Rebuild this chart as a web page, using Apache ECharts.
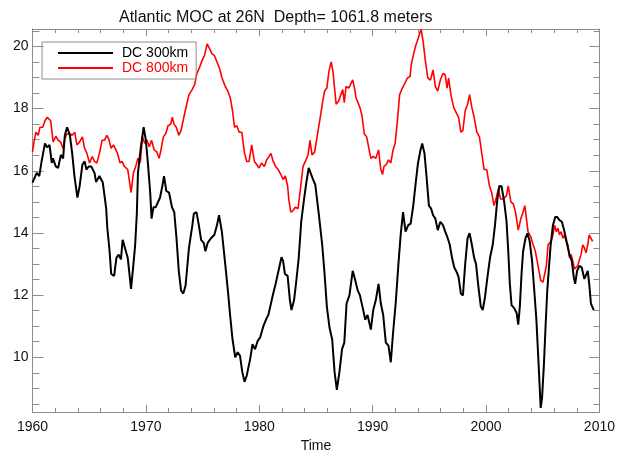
<!DOCTYPE html>
<html>
<head>
<meta charset="utf-8">
<title>Atlantic MOC at 26N</title>
<script src="https://cdn.jsdelivr.net/npm/echarts@6/dist/echarts.min.js"></script>
<style>
  html, body { margin: 0; padding: 0; background: #fff; }
  #chart { width: 618px; height: 458px; }
</style>
</head>
<body>
<div id="chart"></div>
<script>
// DC 300km (black), decimal year / transport
let years300 = [1960.0, 1960.37, 1960.6, 1960.8, 1961.1, 1961.3, 1961.5, 1961.7, 1961.8, 1962.05, 1962.26, 1962.5, 1962.7, 1962.85,
  1963.05, 1963.3, 1963.5, 1963.7, 1963.96, 1964.16, 1964.4, 1964.6, 1964.75, 1964.97, 1965.18, 1965.47, 1965.6, 1965.9,
  1966.2, 1966.5, 1966.6, 1966.8, 1966.94, 1967.2, 1967.4, 1967.6, 1967.8, 1967.95, 1968.1, 1968.4, 1968.69, 1968.9,
  1969.05, 1969.2, 1969.3, 1969.56, 1969.8, 1970.0, 1970.2, 1970.38, 1970.5, 1970.67, 1970.87, 1971.0, 1971.25, 1971.45,
  1971.6, 1971.8, 1972.04, 1972.3, 1972.5, 1972.7, 1972.9, 1973.1, 1973.3, 1973.5, 1973.8, 1974.1, 1974.23, 1974.46,
  1974.67, 1974.87, 1975.1, 1975.25, 1975.45, 1975.74, 1976.04, 1976.27, 1976.45, 1976.7, 1977.0, 1977.23, 1977.44, 1977.64,
  1977.88, 1978.1, 1978.3, 1978.5, 1978.7, 1978.9, 1979.2, 1979.4, 1979.63, 1979.86, 1980.07, 1980.36, 1980.65, 1980.8,
  1981.03, 1981.23, 1981.44, 1981.6, 1981.76, 1981.96, 1982.1, 1982.26, 1982.5, 1982.7, 1982.84, 1983.07, 1983.27, 1983.48,
  1983.7, 1983.95, 1984.15, 1984.36, 1984.53, 1984.74, 1984.94, 1985.26, 1985.55, 1985.76, 1985.96, 1986.2, 1986.43, 1986.64,
  1986.84, 1987.07, 1987.3, 1987.5, 1987.7, 1987.95, 1988.24, 1988.47, 1988.68, 1988.88, 1989.1, 1989.35, 1989.55, 1989.84,
  1990.05, 1990.28, 1990.52, 1990.72, 1990.93, 1991.16, 1991.4, 1991.6, 1991.8, 1992.03, 1992.27, 1992.47, 1992.68, 1992.9,
  1993.14, 1993.35, 1993.58, 1993.8, 1994.0, 1994.22, 1994.37, 1994.57, 1994.75, 1994.96, 1995.16, 1995.33, 1995.53, 1995.74,
  1995.97, 1996.2, 1996.4, 1996.62, 1996.8, 1997.0, 1997.2, 1997.43, 1997.58, 1997.78, 1997.96, 1998.16, 1998.37, 1998.55,
  1998.75, 1998.95, 1999.12, 1999.33, 1999.54, 1999.71, 1999.91, 2000.12, 2000.35, 2000.59, 2000.79, 2001.0, 2001.17, 2001.37,
  2001.6, 2001.8, 2001.96, 2002.1, 2002.25, 2002.5, 2002.7, 2002.84, 2002.98, 2003.13, 2003.27, 2003.48, 2003.65, 2003.85,
  2004.06, 2004.23, 2004.44, 2004.64, 2004.82, 2004.94, 2005.1, 2005.25, 2005.4, 2005.55, 2005.7, 2005.9, 2006.1, 2006.28,
  2006.48, 2006.69, 2006.92, 2007.16, 2007.35, 2007.56, 2007.74, 2007.86, 2008.03, 2008.24, 2008.44, 2008.67, 2008.82, 2008.97,
  2009.1, 2009.25, 2009.4, 2009.5];
let dc300 = [15.62, 15.93, 15.83, 16.3, 16.88, 16.75, 16.83, 16.25, 16.4, 16.14, 16.09, 16.51, 16.4, 17.14,
  17.4, 17.14, 16.56, 15.83, 15.14, 15.51, 16.2, 16.3, 16.04, 16.14, 16.14, 15.93, 15.64, 15.83,
  15.62, 14.78, 14.15, 13.41, 12.68, 12.62, 13.2, 13.3, 13.15, 13.78, 13.78, 13.2, 12.2, 12.99,
  13.6, 14.6, 15.93, 16.77, 17.4, 16.98, 16.14, 15.3, 14.46, 14.83, 14.83, 14.88, 15.14, 15.51,
  15.83, 15.35, 15.3, 14.83, 14.67, 13.83, 12.78, 12.15, 12.05, 12.31, 13.52, 14.25, 14.62, 14.67,
  14.25, 13.78, 13.68, 13.41, 13.68, 13.83, 13.94, 14.25, 14.57, 14.04, 12.99, 12.15, 11.31, 10.58,
  10.0, 10.16, 10.05, 9.53, 9.21, 9.42, 9.95, 10.42, 10.26, 10.53, 10.63, 11.0, 11.26, 11.36,
  11.73, 12.05, 12.36, 12.42, 12.89, 13.22, 13.1, 12.68, 12.62, 11.84, 11.52, 11.84, 12.47, 13.2,
  14.36, 15.09, 15.62, 16.09, 16.04, 15.72, 15.55, 14.57, 13.62, 12.68, 11.63, 10.94, 10.58, 9.53,
  8.95, 9.53, 10.26, 10.47, 11.73, 11.99, 12.78, 12.47, 12.15, 11.99, 11.63, 11.21, 11.36, 10.89,
  11.52, 11.84, 12.36, 11.73, 11.36, 10.47, 10.37, 9.84, 10.79, 11.73, 12.99, 13.94, 14.67, 14.04,
  14.25, 14.3, 14.88, 15.62, 16.25, 16.67, 16.88, 16.56, 15.83, 14.88, 14.78, 14.57, 14.46, 14.09,
  14.36, 14.25, 14.04, 13.83, 13.62, 13.2, 12.89, 12.73, 12.57, 12.05, 11.99, 12.99, 13.83, 13.99,
  13.62, 13.2, 12.99, 12.26, 11.63, 11.52, 11.94, 12.57, 13.2, 13.62, 14.25, 15.09, 15.51, 15.5,
  15.0, 14.4, 13.41, 12.36, 11.68, 11.57, 11.42, 11.05, 11.63, 12.68, 13.41, 13.83, 13.99, 13.73,
  13.1, 12.26, 11.21, 9.74, 8.37, 8.69, 9.74, 11.0, 12.15, 12.89, 13.62, 14.25, 14.51, 14.51,
  14.41, 14.36, 14.04, 13.62, 13.31, 13.1, 12.57, 12.36, 12.78, 12.94, 12.89, 12.52, 12.47, 12.78,
  12.36, 11.73, 11.68, 11.52];

// DC 800km (red)
let years800 = [1960.0, 1960.13, 1960.3, 1960.5, 1960.66, 1960.9, 1961.1, 1961.3, 1961.47, 1961.6, 1961.82, 1962.06, 1962.26, 1962.47,
  1962.7, 1962.85, 1963.05, 1963.3, 1963.5, 1963.72, 1963.92, 1964.16, 1964.4, 1964.6, 1964.8, 1965.03, 1965.27, 1965.47,
  1965.67, 1965.9, 1966.14, 1966.35, 1966.55, 1966.72, 1966.93, 1967.14, 1967.3, 1967.5, 1967.72, 1967.9, 1968.1, 1968.4,
  1968.7, 1968.9, 1969.1, 1969.3, 1969.5, 1969.7, 1969.9, 1970.1, 1970.3, 1970.5, 1970.73, 1970.96, 1971.16, 1971.3,
  1971.54, 1971.75, 1971.95, 1972.19, 1972.33, 1972.48, 1972.68, 1972.9, 1973.1, 1973.35, 1973.6, 1973.8, 1974.08, 1974.3,
  1974.5, 1974.75, 1974.96, 1975.17, 1975.4, 1975.63, 1975.83, 1976.04, 1976.27, 1976.5, 1976.7, 1977.0, 1977.23, 1977.44,
  1977.64, 1977.82, 1978.02, 1978.23, 1978.46, 1978.7, 1978.9, 1979.1, 1979.33, 1979.57, 1979.77, 1979.98, 1980.2, 1980.45,
  1980.65, 1980.86, 1981.03, 1981.23, 1981.44, 1981.67, 1981.9, 1982.1, 1982.3, 1982.5, 1982.6, 1982.78, 1982.98, 1983.18,
  1983.42, 1983.66, 1983.86, 1984.06, 1984.3, 1984.47, 1984.65, 1984.88, 1985.1, 1985.38, 1985.6, 1985.76, 1985.96, 1986.14,
  1986.34, 1986.5, 1986.64, 1986.78, 1987.0, 1987.2, 1987.36, 1987.5, 1987.65, 1987.9, 1988.1, 1988.24, 1988.4, 1988.53,
  1988.68, 1988.88, 1989.06, 1989.26, 1989.47, 1989.64, 1989.84, 1990.05, 1990.28, 1990.52, 1990.72, 1990.87, 1991.0, 1991.2,
  1991.4, 1991.6, 1991.8, 1991.98, 1992.18, 1992.38, 1992.62, 1992.85, 1993.06, 1993.3, 1993.4, 1993.58, 1993.8, 1994.0,
  1994.17, 1994.28, 1994.46, 1994.66, 1994.87, 1995.1, 1995.33, 1995.53, 1995.74, 1995.97, 1996.2, 1996.4, 1996.56, 1996.7,
  1996.9, 1997.15, 1997.37, 1997.58, 1997.78, 1997.96, 1998.16, 1998.37, 1998.55, 1998.75, 1998.95, 1999.19, 1999.42, 1999.62,
  1999.83, 2000.06, 2000.3, 2000.5, 2000.7, 2000.88, 2001.08, 2001.28, 2001.52, 2001.8, 2001.96, 2002.19, 2002.4, 2002.6,
  2002.84, 2003.07, 2003.27, 2003.42, 2003.56, 2003.7, 2003.94, 2004.15, 2004.35, 2004.59, 2004.82, 2005.03, 2005.17, 2005.32,
  2005.47, 2005.6, 2005.75, 2005.9, 2006.04, 2006.2, 2006.34, 2006.48, 2006.63, 2006.78, 2006.92, 2007.07, 2007.22, 2007.36,
  2007.5, 2007.65, 2007.8, 2007.94, 2008.08, 2008.24, 2008.38, 2008.53, 2008.67, 2008.82, 2008.97, 2009.1, 2009.25, 2009.4];
let dc800 = [16.61, 16.93, 17.24, 17.14, 17.4, 17.4, 17.61, 17.72, 17.72, 17.61, 16.93, 17.11, 16.98, 16.93,
  16.72, 17.03, 17.19, 17.19, 17.14, 17.24, 16.83, 16.93, 17.09, 16.72, 16.56, 16.25, 16.46, 16.3,
  16.25, 16.56, 16.98, 16.98, 17.14, 17.03, 16.72, 16.83, 16.88, 16.56, 16.25, 16.3, 16.14, 16.04,
  15.3, 15.93, 16.14, 16.4, 16.25, 17.09, 16.88, 16.98, 16.77, 16.98, 16.67, 16.61, 16.4, 16.61,
  17.09, 17.19, 17.45, 17.5, 17.72, 17.5, 17.4, 17.14, 17.3, 17.72, 18.14, 18.45, 18.61, 18.77,
  19.13, 19.34, 19.55, 19.71, 20.08, 19.92, 19.76, 19.71, 19.5, 19.29, 19.0, 18.71, 18.56, 18.35,
  17.93, 17.4, 17.45, 17.24, 17.24, 16.56, 16.3, 16.3, 16.83, 16.3, 16.2, 16.09, 16.25, 16.14,
  16.35, 16.46, 16.56, 16.3, 16.14, 16.04, 15.88, 15.72, 15.83, 15.51, 15.09, 14.67, 14.72, 14.83,
  14.78, 15.51, 16.14, 16.3, 16.51, 16.98, 16.51, 16.6, 17.1, 17.72, 18.24, 18.56, 18.66, 19.19,
  19.5, 19.19, 18.66, 18.14, 18.24, 18.45, 18.61, 18.19, 18.71, 18.66, 18.82, 18.92, 18.66, 18.35,
  18.4, 18.03, 17.77, 17.19, 17.09, 16.77, 16.4, 16.46, 16.4, 16.67, 16.04, 15.88, 16.14, 16.2,
  16.35, 16.25, 16.67, 16.88, 17.61, 18.45, 18.66, 18.82, 18.98, 19.03, 19.4, 19.71, 20.03, 20.24,
  20.45, 20.55, 20.13, 19.5, 18.98, 18.92, 19.24, 18.71, 18.56, 18.92, 19.13, 19.08, 18.66, 18.98,
  18.45, 18.03, 17.87, 17.72, 17.24, 17.3, 17.93, 18.14, 18.45, 18.03, 17.72, 17.24, 17.09, 16.56,
  16.04, 16.04, 15.51, 15.3, 14.88, 15.09, 15.41, 15.09, 15.09, 15.2, 15.51, 14.99, 14.94, 14.67,
  14.09, 14.46, 14.67, 14.88, 14.46, 14.04, 13.88, 13.62, 13.41, 12.94, 12.47, 12.42, 12.68, 12.94,
  13.62, 13.57, 13.73, 13.94, 14.25, 14.04, 14.15, 13.94, 14.04, 13.83, 13.94, 13.73, 13.62, 13.2,
  13.31, 13.1, 12.84, 12.78, 12.94, 12.99, 13.31, 13.62, 13.52, 13.36, 13.62, 13.94, 13.99, 13.73];

let xTicks = [1960, 1970, 1980, 1990, 2000, 2010];
let yTicks = [10, 12, 14, 16, 18, 20];
let yMinorTicks = [8.5, 9, 9.5, 10.5, 11, 11.5, 12.5, 13, 13.5, 14.5, 15, 15.5, 16.5, 17, 17.5, 18.5, 19, 19.5, 20.5];

function pairs(xs, ys) {
  let out = [];
  for (let i = 0; i < xs.length; i++) {
    out.push([xs[i], ys[i]]);
  }
  return out;
}

let chart = echarts.init(document.getElementById("chart"), null, { renderer: "canvas" });
let font = "'Liberation Sans', Arial, Helvetica, sans-serif";
let axisColor = "#8c8c8c";
let yMin = 8.24;
let yMax = 20.56;

let xBase = {
  type: "value",
  min: xTicks[0],
  max: xTicks[xTicks.length - 1],
  interval: 10,
  axisLine: { show: true, lineStyle: { color: axisColor, width: 1 } },
  axisTick: { show: true, inside: true, length: 7, lineStyle: { color: axisColor } },
  minorTick: { show: true, splitNumber: 5, length: 4, lineStyle: { color: axisColor } },
  splitLine: { show: false }
};

let yBase = {
  type: "value",
  min: yMin,
  max: yMax,
  axisLine: { show: true, lineStyle: { color: axisColor, width: 1 } },
  splitLine: { show: false }
};

let option = {
  backgroundColor: "#fff",
  animation: false,
  title: {
    text: "Atlantic MOC at 26N  Depth= 1061.8 meters",
    left: 114,
    top: 5,
    textStyle: { fontFamily: font, fontSize: 16, fontWeight: "normal", color: "#111" }
  },
  legend: {
    orient: "vertical",
    left: 42,
    top: 42,
    padding: [4, 8, 4, 15],
    itemWidth: 55,
    itemHeight: 14,
    itemGap: 1,
    borderColor: "#8c8c8c",
    borderWidth: 1,
    itemStyle: { opacity: 0 },
    textStyle: { fontFamily: font, fontSize: 14, padding: [0, 0, 0, 4] },
    data: [
      { name: "DC 300km", textStyle: { color: "#000" } },
      { name: "DC 800km", textStyle: { color: "#ff0000" } }
    ]
  },
  grid: { left: 32.5, right: 14.7, top: 29, bottom: 37 },
  xAxis: [
    Object.assign({}, xBase, {
      position: "bottom",
      name: "Time",
      nameLocation: "middle",
      nameGap: 27,
      nameTextStyle: { fontFamily: font, fontSize: 14, color: "#111" },
      axisLabel: {
        show: true,
        margin: 8,
        fontFamily: font,
        fontSize: 14,
        color: "#111",
        formatter: (v) => String(v)
      }
    }),
    Object.assign({}, xBase, {
      position: "top",
      axisLabel: { show: false }
    })
  ],
  yAxis: [
    Object.assign({}, yBase, {
      position: "left",
      axisTick: { show: true, inside: true, length: 11, customValues: yTicks, lineStyle: { color: axisColor } },
      axisLabel: { show: true, margin: 4, customValues: yTicks, fontFamily: font, fontSize: 14, color: "#111" }
    }),
    Object.assign({}, yBase, {
      position: "right",
      axisTick: { show: true, inside: true, length: 10, customValues: yTicks, lineStyle: { color: axisColor } },
      axisLabel: { show: false }
    }),
    Object.assign({}, yBase, {
      position: "left",
      axisLine: { show: false },
      axisTick: { show: true, inside: true, length: 7, customValues: yMinorTicks, lineStyle: { color: axisColor } },
      axisLabel: { show: false }
    }),
    Object.assign({}, yBase, {
      position: "right",
      axisLine: { show: false },
      axisTick: { show: true, inside: true, length: 6, customValues: yMinorTicks, lineStyle: { color: axisColor } },
      axisLabel: { show: false }
    })
  ],
  series: [
    {
      name: "DC 300km",
      type: "line",
      xAxisIndex: 0,
      yAxisIndex: 0,
      symbol: "none",
      color: "#000",
      lineStyle: { color: "#000", width: 2 },
      data: pairs(years300, dc300),
      z: 3
    },
    {
      name: "DC 800km",
      type: "line",
      xAxisIndex: 0,
      yAxisIndex: 0,
      symbol: "none",
      color: "#ff0000",
      lineStyle: { color: "#ff0000", width: 1.6 },
      data: pairs(years800, dc800),
      z: 2
    }
  ]
};

chart.setOption(option);
window.addEventListener("resize", () => {
  chart.resize();
});
</script>
</body>
</html>
